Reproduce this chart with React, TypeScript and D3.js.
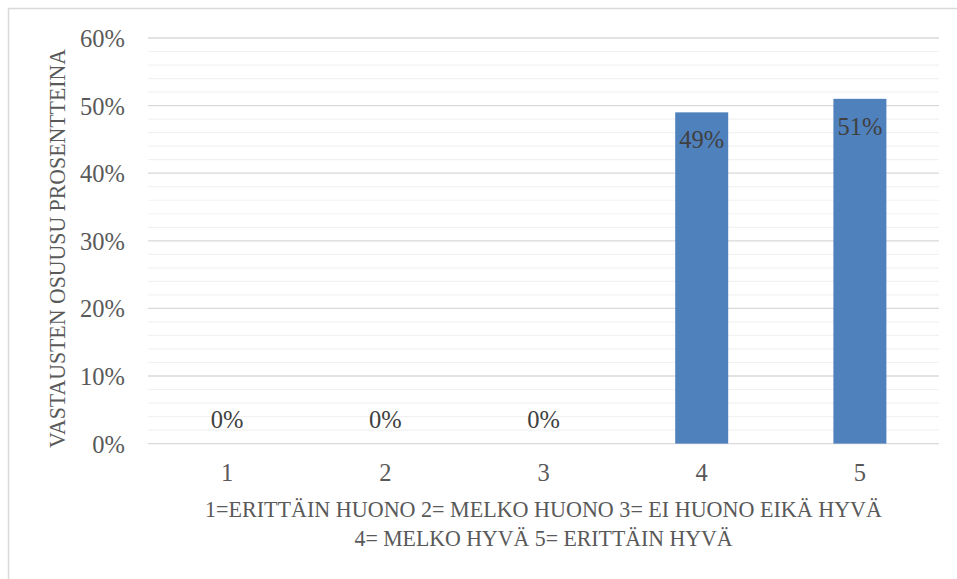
import React from "react";
import * as d3 from "d3";

const categories = ["1", "2", "3", "4", "5"];
const values = [0, 0, 0, 0.49, 0.51];
const yTicks = [0, 0.1, 0.2, 0.3, 0.4, 0.5, 0.6];
const yTitle = "VASTAUSTEN OSUUSU PROSENTTEINA";
const xTitleLines = [
  "1=ERITTÄIN HUONO 2= MELKO HUONO 3= EI HUONO EIKÄ HYVÄ",
  "4= MELKO HYVÄ 5= ERITTÄIN HYVÄ",
];

const W = 957;
const H = 579;
const left = 148;
const right = 939;
const top = 38;
const bottom = 443.6;
const FONT = "'Liberation Serif', 'DejaVu Serif', serif";

export default function App() {
  const x = d3
    .scaleBand<string>()
    .domain(categories)
    .range([left, right])
    .paddingInner(0.665)
    .paddingOuter(0.3325);
  const y = d3.scaleLinear().domain([0, 0.6]).range([bottom, top]);
  const minor = d3.range(0, 0.6001, 0.02).filter((v) => Math.round(v * 100) % 10 !== 0);
  const fmt = d3.format(".0%");

  return (
    <svg
      width={W}
      height={H}
      style={{ position: "absolute", left: 0, top: 0, background: "#fff" }}
      fontFamily={FONT}
    >
      <rect x={8.5} y={8.5} width={W + 10} height={H + 10} fill="#fff" stroke="#d9d9d9" strokeWidth={1.5} />
      {minor.map((v) => (
        <line key={"m" + v} x1={left} x2={right} y1={y(v)} y2={y(v)} stroke="#f2f2f2" strokeWidth={1.2} />
      ))}
      {yTicks.map((v) => (
        <line key={"g" + v} x1={left} x2={right} y1={y(v)} y2={y(v)} stroke="#d9d9d9" strokeWidth={1.3} />
      ))}
      {yTicks.map((v) => (
        <text key={"t" + v} x={125} y={y(v) + 9} textAnchor="end" fontSize={24.5} fill="#595959">
          {fmt(v)}
        </text>
      ))}
      {categories.map((c, i) => (
        <rect
          key={"b" + c}
          x={x(c)}
          y={y(values[i])}
          width={x.bandwidth()}
          height={y(0) - y(values[i])}
          fill="#4f81bd"
        />
      ))}
      {categories.map((c, i) => (
        <text
          key={"l" + c}
          x={(x(c) as number) + x.bandwidth() / 2}
          y={values[i] > 0 ? y(values[i]) + 36 : y(values[i]) - 16}
          textAnchor="middle"
          fontSize={24.5}
          fill="#404040"
        >
          {fmt(values[i])}
        </text>
      ))}
      {categories.map((c) => (
        <text
          key={"c" + c}
          x={(x(c) as number) + x.bandwidth() / 2}
          y={481}
          textAnchor="middle"
          fontSize={24.5}
          fill="#595959"
        >
          {c}
        </text>
      ))}
      <text
        transform={`translate(65, 248.5) rotate(-90)`}
        textAnchor="middle"
        fontSize={23}
        fill="#595959"
        textLength={399}
        lengthAdjust="spacingAndGlyphs"
      >
        {yTitle}
      </text>
      <text
        x={(left + right) / 2}
        y={517}
        textAnchor="middle"
        fontSize={23}
        fill="#595959"
        textLength={677}
        lengthAdjust="spacingAndGlyphs"
      >
        {xTitleLines[0]}
      </text>
      <text
        x={(left + right) / 2}
        y={546}
        textAnchor="middle"
        fontSize={23}
        fill="#595959"
        textLength={378}
        lengthAdjust="spacingAndGlyphs"
      >
        {xTitleLines[1]}
      </text>
    </svg>
  );
}
